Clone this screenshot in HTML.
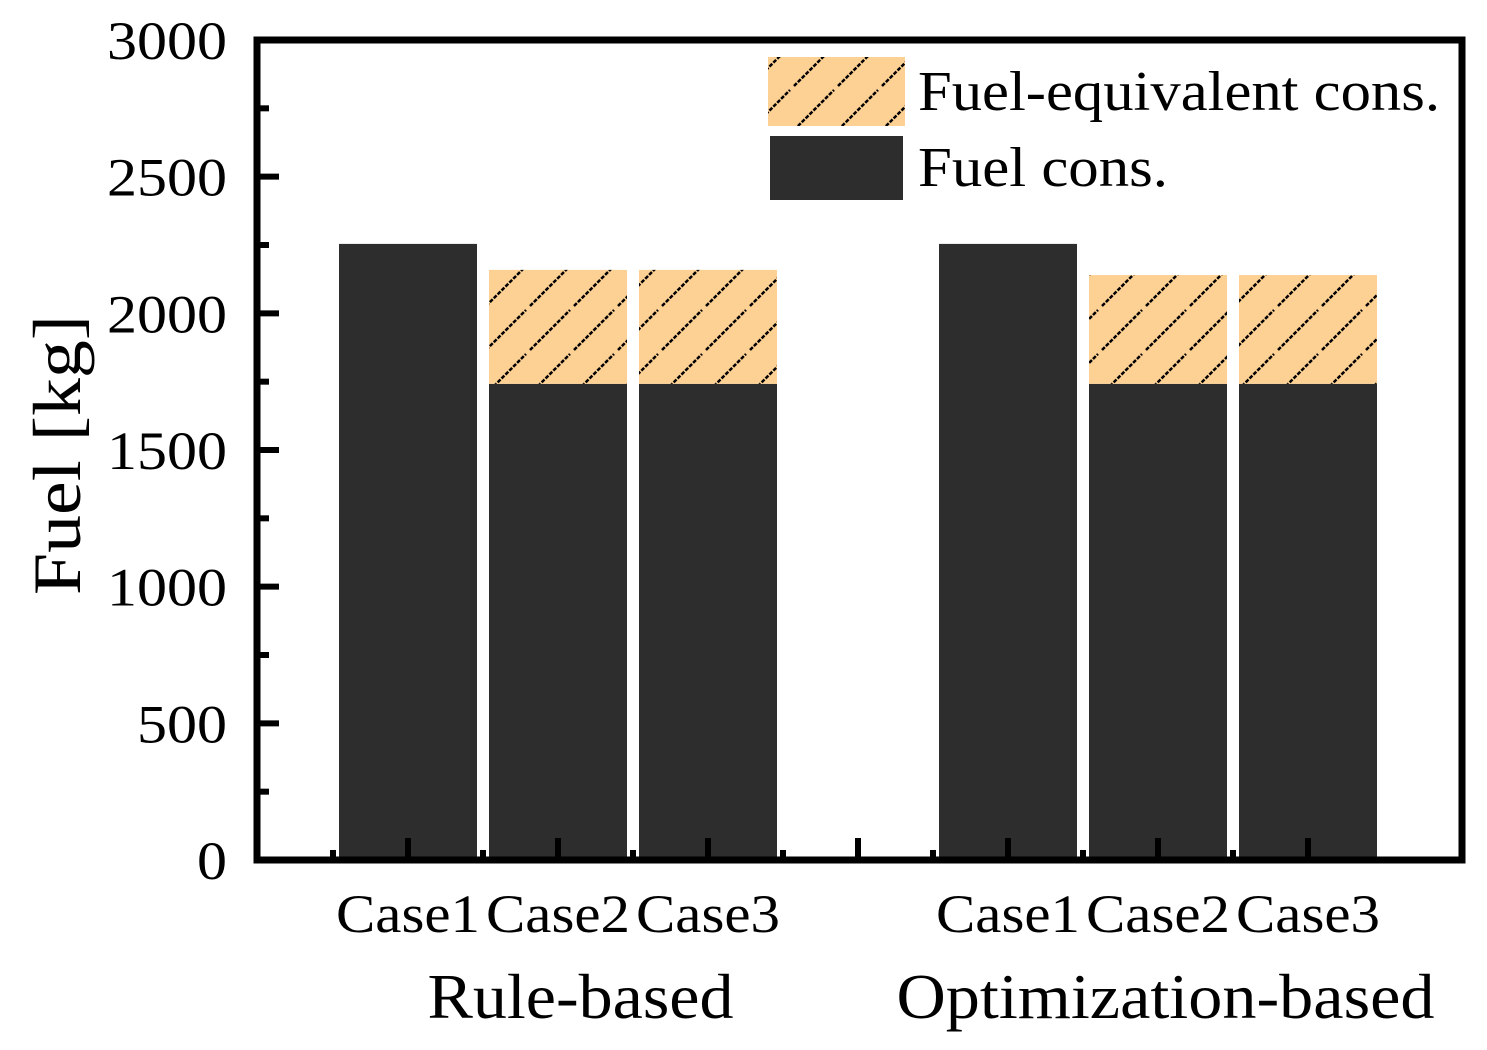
<!DOCTYPE html>
<html><head><meta charset="utf-8"><style>
body{margin:0;background:#fff;}
svg{display:block;font-family:"Liberation Serif",serif;}
</style></head><body>
<svg id="chart" width="1487" height="1050" viewBox="0 0 1487 1050">
<defs>
<pattern id="hatch" patternUnits="userSpaceOnUse" width="44" height="44">
<rect width="44" height="44" fill="#fdd093"/>
<line x1="2" y1="42" x2="42" y2="2" stroke="#000" stroke-width="2.5" stroke-dasharray="4,1.5"/>
</pattern>
</defs>
<g id="bars"></g>
<g id="axes"></g>
</svg>
<script>
const categories = ["Case1","Case2","Case3","Case1","Case2","Case3"];
const positions = [1,2,3,5,6,7];
const fuelCons = [2254,1742,1742,2254,1742,1742];
const equivCons = [0,417,417,0,398,398];
const yTicks = [0,500,1000,1500,2000,2500,3000];
const groups = ["Rule-based","Optimization-based"];
const groupCenters = [2.15,6.05];

const NS="http://www.w3.org/2000/svg";
const L=257,R=1462,T=40,B=860;
const y=v=>B-(v/3000)*(B-T);
const x=p=>258+p*150;
const bw=138;
function mk(tag,attrs,parent){const e=document.createElementNS(NS,tag);for(const k in attrs)e.setAttribute(k,attrs[k]);parent.appendChild(e);return e;}
const gb=document.getElementById('bars'), ga=document.getElementById('axes');

categories.forEach((c,i)=>{
  const cx=x(positions[i]);
  const r=mk('rect',{x:cx-bw/2,y:y(fuelCons[i]),width:bw,height:B-y(fuelCons[i]),fill:'#2d2d2d'},gb);
  
  
  if(equivCons[i]>0){
    const top=fuelCons[i]+equivCons[i];
    const h=mk('rect',{x:cx-bw/2,y:y(top),width:bw,height:y(fuelCons[i])-y(top),fill:'url(#hatch)'},gb);
    
    
  }
  const t=mk('text',{x:cx,y:932,'font-size':54,'text-anchor':'middle',textLength:144,lengthAdjust:'spacingAndGlyphs'},ga);
  t.textContent=c;
  
  
});
const groupLens=[306,538];
groups.forEach((g,i)=>{
  const t=mk('text',{x:x(groupCenters[i]),y:1018,'font-size':64,'text-anchor':'middle',textLength:groupLens[i],lengthAdjust:'spacingAndGlyphs'},ga);
  t.textContent=g;
  
  
});
const f=mk('rect',{x:L,y:T,width:R-L,height:B-T,fill:'none',stroke:'#000','stroke-width':7},ga);


yTicks.forEach((v,i)=>{
  mk('line',{x1:L,x2:L+22,y1:y(v),y2:y(v),stroke:'#000','stroke-width':6},ga);
  if(i<yTicks.length-1){const m=v+250;mk('line',{x1:L,x2:L+12,y1:y(m),y2:y(m),stroke:'#000','stroke-width':6},ga);}
  const s=String(v);
  const t=mk('text',{x:227,y:y(v)+19,'font-size':54,'text-anchor':'end',textLength:30*s.length,lengthAdjust:'spacingAndGlyphs'},ga);
  t.textContent=s;
  
  
});
for(let p=1;p<=7;p++){
  mk('line',{x1:x(p),x2:x(p),y1:B,y2:B-22,stroke:'#000','stroke-width':6},ga);
  mk('line',{x1:x(p-0.5),x2:x(p-0.5),y1:B,y2:B-10,stroke:'#000','stroke-width':6},ga);
}
const yt=mk('text',{x:0,y:0,'font-size':68,'text-anchor':'middle',textLength:280,lengthAdjust:'spacingAndGlyphs',transform:'translate(80,455) rotate(-90)'},ga);
yt.textContent='Fuel [kg]';


const lg=mk('g',{},ga);


mk('rect',{x:768,y:57,width:137,height:69,fill:'url(#hatch)'},lg);
mk('rect',{x:770,y:136,width:133,height:64,fill:'#2d2d2d'},lg);
const l1=mk('text',{x:918,y:110,'font-size':56,textLength:522,lengthAdjust:'spacingAndGlyphs'},lg);l1.textContent='Fuel-equivalent cons.';


const l2=mk('text',{x:918,y:186,'font-size':56,textLength:250,lengthAdjust:'spacingAndGlyphs'},lg);l2.textContent='Fuel cons.';


</script>
</body></html>
